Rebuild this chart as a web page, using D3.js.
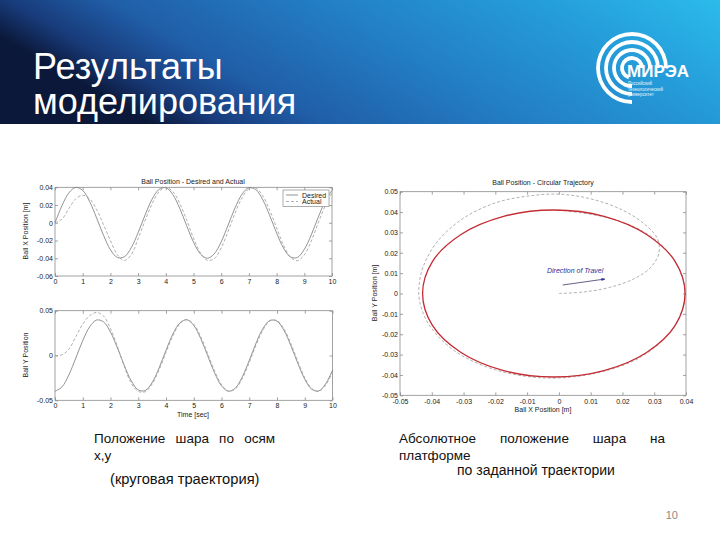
<!DOCTYPE html>
<html><head><meta charset="utf-8">
<script src="https://cdn.jsdelivr.net/npm/d3@7"></script>
<style>body{margin:0;background:#fff}svg{display:block}</style></head>
<body><svg id="s" width="720" height="540"></svg>
<script>
// ---------- data ----------
const time = [0,0.25,0.5,0.75,1,1.25,1.5,1.75,2,2.25,2.5,2.75,3,3.25,3.5,3.75,4,4.25,4.5,4.75,5,5.25,5.5,5.75,6,6.25,6.5,6.75,7,7.25,7.5,7.75,8,8.25,8.5,8.75,9,9.25,9.5,9.75,10];
const desiredX = [0,0.0192,0.0337,0.0399,0.0364,0.0239,0.0056,-0.014,-0.0303,-0.0391,-0.0384,-0.0283,-0.0112,0.0086,0.0263,0.0375,0.0396,0.0319,0.0165,-0.003,-0.0218,-0.0352,-0.04,-0.035,-0.0215,-0.0026,0.0168,0.0321,0.0396,0.0374,0.026,0.0083,-0.0115,-0.0285,-0.0385,-0.0391,-0.03,-0.0137,0.006,0.0242,0.0365];
const actualX = [0,0.004,0.016,0.027,0.031,0.027,0.015,-0.002,-0.02,-0.036,-0.0425,-0.036,-0.018,0.0023,0.0211,0.0348,0.04,0.0354,0.0221,0.0034,-0.0172,-0.0339,-0.0423,-0.0404,-0.0284,-0.0096,0.0108,0.028,0.0382,0.0392,0.0305,0.0144,-0.0057,-0.0252,-0.0387,-0.0427,-0.0363,-0.0208,-0.0004,0.0188,0.0335];
const desiredY = [-0.04,-0.0351,-0.0216,-0.0028,0.0166,0.032,0.0396,0.0375,0.0261,0.0084,-0.0113,-0.0284,-0.0384,-0.0391,-0.0302,-0.0139,0.0058,0.0241,0.0364,0.0399,0.0336,0.019,-0.0002,-0.0193,-0.0338,-0.0399,-0.0363,-0.0238,-0.0055,0.0142,0.0304,0.0392,0.0383,0.0281,0.011,-0.0088,-0.0264,-0.0376,-0.0396,-0.0318,-0.0163];
const actualY = [0,0.0008,0.007,0.021,0.035,0.0445,0.048,0.044,0.03,0.01,-0.0125,-0.031,-0.04,-0.0405,-0.0318,-0.0162,0.0034,0.0222,0.0354,0.0401,0.0349,0.0211,0.0022,-0.0172,-0.0325,-0.0397,-0.0373,-0.0257,-0.0079,0.012,0.0288,0.0387,0.039,0.0298,0.0133,-0.0065,-0.0246,-0.0368,-0.04,-0.0333,-0.0185];

const timeTicks = [0,1,2,3,4,5,6,7,8,9,10];
const xPosTicks = [-0.06,-0.04,-0.02,0,0.02,0.04];
const yPosTicks = [-0.05,0,0.05];
const circXTicks = [-0.05,-0.04,-0.03,-0.02,-0.01,0,0.01,0.02,0.03,0.04];
const circYTicks = [-0.05,-0.04,-0.03,-0.02,-0.01,0,0.01,0.02,0.03,0.04,0.05];

// circular trajectory (red, closed) and actual path (dashed)
const ringX = [0.0397,0.0366,0.0276,0.0142,-0.0016,-0.0174,-0.0308,-0.0398,-0.0429,-0.0398,-0.0308,-0.0174,-0.0016,0.0142,0.0276,0.0366];
const ringY = [0,0.0157,0.029,0.0379,0.041,0.0379,0.029,0.0157,0,-0.0157,-0.029,-0.0379,-0.041,-0.0379,-0.029,-0.0157];
const pathX = [0,0.008,0.016,0.024,0.029,0.0315,0.031,0.027,0.02,0.01,0,-0.01,-0.02,-0.03,-0.038,-0.0425,-0.044,-0.0438,-0.041,-0.033,-0.02,-0.004,0.012,0.026,0.036,0.0397,0.0385,0.034,0.027,0.016,0];
const pathY = [0,0.0008,0.003,0.0075,0.013,0.02,0.027,0.034,0.041,0.0465,0.0488,0.0478,0.0445,0.037,0.026,0.014,0.004,-0.004,-0.015,-0.028,-0.0375,-0.0415,-0.039,-0.031,-0.017,-0.002,0.01,0.021,0.03,0.037,0.041];

const titleLines = ["Результаты","моделирования"];
const captionLeft1 = ["Положение","шара","по","осям"];
const captionRight1 = ["Абсолютное","положение","шара","на"];

// ---------- drawing ----------
const svg = d3.select("#s");
const defs = svg.append("defs");
const grad = defs.append("linearGradient").attr("id","hdr").attr("x1","0").attr("y1","0.3").attr("x2","1").attr("y2","0");
[["0%","#0b1839"],["9%","#183b7a"],["22%","#205ea8"],["50%","#2380c6"],["78%","#259fdb"],["100%","#2bbbeb"]].forEach(s=>grad.append("stop").attr("offset",s[0]).attr("stop-color",s[1]));
svg.append("rect").attr("x",0).attr("y",0).attr("width",720).attr("height",124).attr("fill","url(#hdr)");

const title = svg.append("text").attr("fill","#fff").attr("font-family","Liberation Sans, Arial, sans-serif").attr("font-size",36);
title.selectAll("tspan").data(titleLines).join("tspan").attr("x",33).attr("y",(d,i)=>79+i*35).text(d=>d);

// logo
const logo = svg.append("g").attr("transform","translate(632,68)");
[10,18,26,34].forEach((r,i)=>{
  logo.append("path").attr("d", d3.arc()({innerRadius:r-1.9,outerRadius:r+1.9,startAngle:-Math.PI*(i<1?0.9:1.0),endAngle:Math.PI*0.5}))
    .attr("fill","#fff");
});
svg.append("text").attr("x",627).attr("y",77).attr("fill","#fff").attr("font-family","Liberation Sans, Arial").attr("font-weight","bold").attr("font-size",17).text("МИРЭА");
["Российский","технологический","университет"].forEach((t,i)=>svg.append("text").attr("x",628).attr("y",85+i*5.5).attr("fill","#e6f4fb").attr("font-family","Liberation Sans, Arial").attr("font-size",4.5).text(t));

const FONT = "Liberation Sans, Arial, sans-serif";

function frame(g, x, y, xt, yt, fmtX, fmtY, padX){
  const [x0,x1]=x.range(), [y0,y1]=y.range();
  g.append("rect").attr("x",x0).attr("y",y1).attr("width",x1-x0).attr("height",y0-y1).attr("fill","#fff").attr("stroke","#8a8a8a").attr("stroke-width",0.8);
  const style = a => { a.select(".domain").remove(); a.selectAll("line").attr("stroke","#8a8a8a").attr("stroke-width",0.8); a.selectAll("text").attr("font-family",FONT).attr("font-size",7).attr("fill","#222"); };
  g.append("g").attr("transform",`translate(0,${y0})`).call(d3.axisBottom(x).tickValues(xt).tickSize(-3).tickPadding(padX||2).tickFormat(fmtX)).call(style);
  g.append("g").attr("transform",`translate(0,${y1})`).call(d3.axisTop(x).tickValues(xt).tickSize(-3).tickFormat("")).call(style);
  g.append("g").attr("transform",`translate(${x0},0)`).call(d3.axisLeft(y).tickValues(yt).tickSize(-3).tickPadding(2).tickFormat(fmtY)).call(style);
  g.append("g").attr("transform",`translate(${x1},0)`).call(d3.axisRight(y).tickValues(yt).tickSize(-3).tickFormat("")).call(style);
}
function label(txt,x,y,rot){
  svg.append("text").attr("transform",`translate(${x},${y})${rot?" rotate(-90)":""}`).attr("text-anchor","middle")
    .attr("font-family",FONT).attr("font-size",7).attr("fill","#222").text(txt);
}
const fmt = d => d===0 ? "0" : String(d);

// chart 1
const x1s = d3.scaleLinear().domain([0,10]).range([55,332]);
const y1s = d3.scaleLinear().domain([-0.06,0.04]).range([276,187.3]);
const g1 = svg.append("g");
frame(g1,x1s,y1s,timeTicks,xPosTicks,d3.format("d"),fmt,3);
const l1 = (arr,xs,ys)=>d3.line().x((d,i)=>xs(time[i])).y(d=>ys(d)).curve(d3.curveCatmullRom)(arr);
g1.append("path").attr("d",l1(desiredX,x1s,y1s)).attr("fill","none").attr("stroke","#808080").attr("stroke-width",0.85);
g1.append("path").attr("d",l1(actualX,x1s,y1s)).attr("fill","none").attr("stroke","#a0a0a0").attr("stroke-width",0.85).attr("stroke-dasharray","3,2");
label("Ball Position - Desired and Actual",193,184,false);
label("Ball X Position [m]",28,231,true);
// legend
const lg = g1.append("g");
lg.append("rect").attr("x",283).attr("y",190).attr("width",46).attr("height",16.5).attr("fill","#fff").attr("stroke","#8a8a8a").attr("stroke-width",0.7);
lg.append("line").attr("x1",286).attr("x2",298).attr("y1",195).attr("y2",195).attr("stroke","#808080").attr("stroke-width",0.85);
lg.append("line").attr("x1",286).attr("x2",298).attr("y1",201.5).attr("y2",201.5).attr("stroke","#a0a0a0").attr("stroke-width",0.85).attr("stroke-dasharray","3,2");
lg.append("text").attr("x",302).attr("y",197.5).attr("font-family",FONT).attr("font-size",7).attr("fill","#222").text("Desired");
lg.append("text").attr("x",302).attr("y",204).attr("font-family",FONT).attr("font-size",7).attr("fill","#222").text("Actual");

// chart 2
const x2s = d3.scaleLinear().domain([0,10]).range([55,332.5]);
const y2s = d3.scaleLinear().domain([-0.05,0.05]).range([400.3,310.7]);
const g2 = svg.append("g");
frame(g2,x2s,y2s,timeTicks,yPosTicks,d3.format("d"),fmt,3);
g2.append("path").attr("d",l1(desiredY,x2s,y2s)).attr("fill","none").attr("stroke","#808080").attr("stroke-width",0.85);
g2.append("path").attr("d",l1(actualY,x2s,y2s)).attr("fill","none").attr("stroke","#a0a0a0").attr("stroke-width",0.85).attr("stroke-dasharray","3,2");
label("Ball Y Position",28,355,true);
label("Time [sec]",193,417,false);

// chart 3
const x3s = d3.scaleLinear().domain([-0.05,0.04]).range([400,686]);
const y3s = d3.scaleLinear().domain([-0.05,0.05]).range([395.3,191.7]);
const g3 = svg.append("g");
frame(g3,x3s,y3s,circXTicks,circYTicks,fmt,fmt,4);
g3.append("path").attr("d",d3.line().x((d,i)=>x3s(pathX[i])).y((d,i)=>y3s(pathY[i])).curve(d3.curveCatmullRom)(pathX))
  .attr("fill","none").attr("stroke","#a8a8a8").attr("stroke-width",0.9).attr("stroke-dasharray","3,2");
g3.append("path").attr("d",d3.line().x((d,i)=>x3s(ringX[i])).y((d,i)=>y3s(ringY[i])).curve(d3.curveCatmullRomClosed)(ringX))
  .attr("fill","none").attr("stroke","#c42b33").attr("stroke-width",1.3);
label("Ball Position - Circular Trajectory",543,185,false);
label("Ball X Position [m]",543,412,false);
label("Ball Y Position [m]",377,293,true);
// direction arrow
defs.append("marker").attr("id","arr").attr("viewBox","0 0 10 10").attr("refX",9).attr("refY",5).attr("markerWidth",6).attr("markerHeight",5).attr("orient","auto")
  .append("path").attr("d","M0,1L10,5L0,9Z").attr("fill","#2a2f9e");
g3.append("line").attr("x1",562.7).attr("y1",285).attr("x2",605).attr("y2",279).attr("stroke","#3a3a6a").attr("stroke-width",0.8).attr("marker-end","url(#arr)");
g3.append("text").attr("x",547).attr("y",273).attr("font-family",FONT).attr("font-style","italic").attr("font-size",7).attr("fill","#2e2e96").text("Direction of Travel");

// captions
function justify(words,x0,x1,y){
  const ts = words.map(w=>svg.append("text").attr("y",y).attr("font-family",FONT).attr("font-size",13.5).attr("fill","#111").text(w));
  const ws = ts.map(t=>t.node().getComputedTextLength());
  const gap = (x1-x0-d3.sum(ws))/(words.length-1);
  let cx=x0; ts.forEach((t,i)=>{t.attr("x",cx); cx+=ws[i]+gap;});
}
justify(captionLeft1,94,275,443);
justify(captionRight1,399,665,443);
const cap = (t,x,y,fs)=>svg.append("text").attr("x",x).attr("y",y).attr("font-family",FONT).attr("font-size",fs||13.5).attr("fill","#111").text(t);
cap("x,y",94,460);
cap("платформе",399,460);
cap("(круговая траектория)",110,484,14.7);
cap("по заданной траектории",457,475,14);
svg.append("text").attr("x",678).attr("y",519).attr("text-anchor","end").attr("font-family",FONT).attr("font-size",11).attr("fill","#8a8a8a").text("10");
</script></body></html>
